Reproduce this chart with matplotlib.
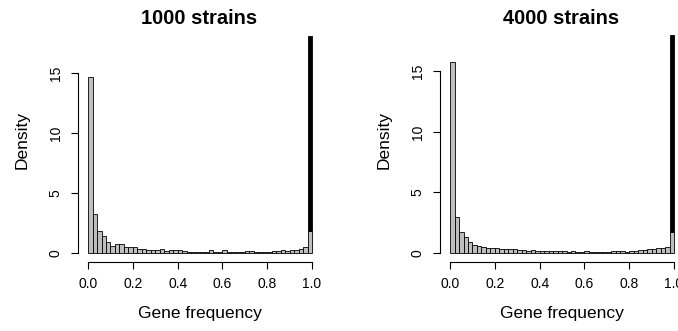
import numpy as np
import matplotlib
matplotlib.use("Agg")
import matplotlib.pyplot as plt

plt.rcParams['font.family'] = ['Liberation Sans', 'DejaVu Sans']

breaks = np.linspace(0, 1, 51)
dens_1000 = [14.7, 3.23, 1.81, 1.37, 0.87, 0.59, 0.70, 0.70, 0.45, 0.45,
             0.47, 0.31, 0.31, 0.20, 0.25, 0.25, 0.31, 0.17, 0.20, 0.20,
             0.20, 0.14, 0.08, 0.08, 0.08, 0.08, 0.08, 0.20, 0.08, 0.08,
             0.20, 0.08, 0.06, 0.06, 0.06, 0.11, 0.11, 0.06, 0.08, 0.08,
             0.08, 0.11, 0.14, 0.20, 0.17, 0.20, 0.22, 0.31, 0.45, 1.78]
dens_4000 = [15.77, 2.98, 1.72, 1.28, 0.85, 0.65, 0.55, 0.49, 0.42, 0.40,
             0.35, 0.30, 0.28, 0.28, 0.28, 0.19, 0.19, 0.17, 0.19, 0.11,
             0.14, 0.14, 0.11, 0.11, 0.14, 0.11, 0.08, 0.11, 0.08, 0.06,
             0.11, 0.08, 0.08, 0.08, 0.06, 0.06, 0.11, 0.11, 0.11, 0.08,
             0.17, 0.17, 0.22, 0.25, 0.28, 0.30, 0.36, 0.40, 0.50, 1.72]
core_top = [18.1, 18.0]
titles = ["1000 strains", "4000 strains"]
xticks = [0.0, 0.2, 0.4, 0.6, 0.8, 1.0]
xticklabels = ["0.0", "0.2", "0.4", "0.6", "0.8", "1.0"]
yticks = [0, 5, 10, 15]
yticklabels = ["0", "5", "10", "15"]

W, H = 678, 331
fig = plt.figure(figsize=(W / 100, H / 100), dpi=100)

panels = [
    dict(left=78, right=321, ylim=(-0.752, 19.552), dens=dens_1000, core=core_top[0], title=titles[0]),
    dict(left=440, right=683, ylim=(-0.744, 19.344), dens=dens_4000, core=core_top[1], title=titles[1]),
]
top_px, bot_px = 18.9, 261.7

for p in panels:
    ax = fig.add_axes([p['left'] / W, 1 - bot_px / H,
                       (p['right'] - p['left']) / W, (bot_px - top_px) / H])
    ax.set_xlim(-0.045, 1.04)
    ax.set_ylim(*p['ylim'])
    lefts = breaks[:-1]
    ax.bar(lefts, p['dens'], width=0.02, align='edge', color='#BEBEBE',
           edgecolor='black', linewidth=0.6)
    ax.bar(lefts[-1], p['core'] - p['dens'][-1], bottom=p['dens'][-1], width=0.02,
           align='edge', color='black', edgecolor='black', linewidth=0.6)
    for s in ['top', 'right']:
        ax.spines[s].set_visible(False)
    ax.spines['left'].set_bounds(0, 15)
    ax.spines['bottom'].set_bounds(0, 1)
    ax.spines['left'].set_linewidth(0.8)
    ax.spines['bottom'].set_linewidth(0.8)
    ax.set_xticks(xticks)
    ax.set_xticklabels(xticklabels)
    ax.set_yticks(yticks)
    ax.set_yticklabels(yticklabels)
    ax.tick_params(direction='out', length=5, width=0.8, labelsize=10, color='black')
    ax.tick_params(axis='x', pad=6)
    ax.tick_params(axis='y', pad=6, labelrotation=90)
    for lab in ax.get_yticklabels():
        lab.set_va('center')
    ax.set_xlabel("Gene frequency", fontsize=12.5)
    ax.set_ylabel("Density", fontsize=12.5)
    ax.xaxis.set_label_coords(0.5, (bot_px - 313.3) / (bot_px - top_px))
    ax.xaxis.label.set_va('center')
    ax.yaxis.set_label_coords((p['left'] - 55.5 - p['left'] + (22.5 if p['left'] < 100 else 384.5) - 22.5 + 22.5 - p['left'] + p['left'] - p['left']) / (p['right'] - p['left']) if False else ((22.5 if p['left'] < 100 else 384.5) - p['left']) / (p['right'] - p['left']), 0.5)
    ax.yaxis.label.set_va('center')
    ax.text(0.5, 1.0, p['title'], transform=ax.transAxes, ha='center', va='center',
            fontsize=14.5, fontweight='bold')

fig.savefig("out.png", dpi=100)
